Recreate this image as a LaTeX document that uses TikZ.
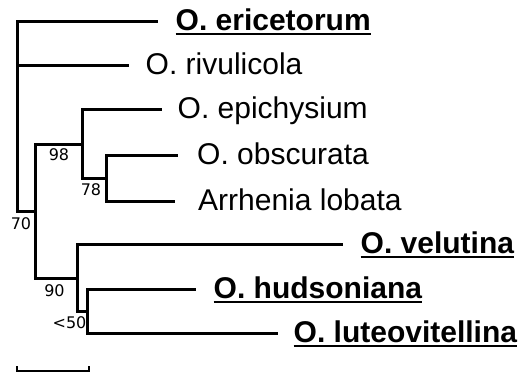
\documentclass[tikz,border=0pt]{standalone}
\usepackage{fontspec}
\setmainfont{Liberation Sans}
\newfontfamily\labfont{DejaVu Sans}
\newcommand{\ulbold}[1]{\setbox0\hbox{\bfseries #1}\rlap{\rule[-4.5pt]{\wd0}{2pt}}\box0}
\tikzset{
  branch/.style={line width=3pt, line join=miter, black},
  taxon/.style={anchor=base west, inner sep=0pt, font=\fontsize{30}{36}\selectfont},
  boot/.style={inner sep=0pt, font=\fontsize{16}{19}\labfont},
  scalebar/.style={line width=1.5pt, black}
}
\begin{document}
\begin{tikzpicture}[x=1pt,y=-1pt]
\useasboundingbox (0,0) rectangle (526,374);
% internal nodes
\coordinate (root) at (17,116);
\coordinate (n70) at (35,211);
\coordinate (n98) at (82,144);
\coordinate (n78) at (106,178);
\coordinate (n90) at (77,278);
\coordinate (n50) at (87,311);
% branch ends
\coordinate (eEnd) at (158,22);
\coordinate (rEnd) at (129,66);
\coordinate (epEnd) at (162,110);
\coordinate (obEnd) at (178,155);
\coordinate (loEnd) at (175,201);
\coordinate (veEnd) at (343,244);
\coordinate (huEnd) at (196,289);
\coordinate (luEnd) at (278,333);
% branches
\draw[branch] (root) |- (eEnd);
\draw[branch] (root) |- (rEnd);
\draw[branch] (root) |- (n70);
\draw[branch] (n70) |- (n98);
\draw[branch] (n70) |- (n90);
\draw[branch] (n98) |- (epEnd);
\draw[branch] (n98) |- (n78);
\draw[branch] (n78) |- (obEnd);
\draw[branch] (n78) |- (loEnd);
\draw[branch] (n90) |- (veEnd);
\draw[branch] (n90) |- (n50);
\draw[branch] (n50) |- (huEnd);
\draw[branch] (n50) |- (luEnd);
% taxa
\node[taxon] (te) at (175.5,31) {\ulbold{O. ericetorum}};
\node[taxon] (tr) at (145.5,75) {O. rivulicola};
\node[taxon] (tep) at (177.5,119) {O. epichysium};
\node[taxon] (tob) at (197,164) {O. obscurata};
\node[taxon] (tlo) at (198,210) {Arrhenia lobata};
\node[taxon] (tve) at (360.5,253) {\ulbold{O. velutina}};
\node[taxon] (thu) at (213.5,298) {\ulbold{O. hudsoniana}};
\node[taxon] (tlu) at (293.5,342) {\ulbold{O. luteovitellina}};
% bootstrap values
\node[boot] (b70) at (21,223.5) {70};
\node[boot] (b98) at (59,155) {98};
\node[boot] (b78) at (91,189.5) {78};
\node[boot] (b90) at (54.5,290.5) {90};
\node[boot] (b50) at (69.5,322.5) {<50};
% scale bar
\coordinate (s1) at (17,371);
\coordinate (s2) at (89,371);
\draw[scalebar] ([yshift=5pt]s1) -- (s1) -- (s2) -- ([yshift=5pt]s2);
\end{tikzpicture}
\end{document}
